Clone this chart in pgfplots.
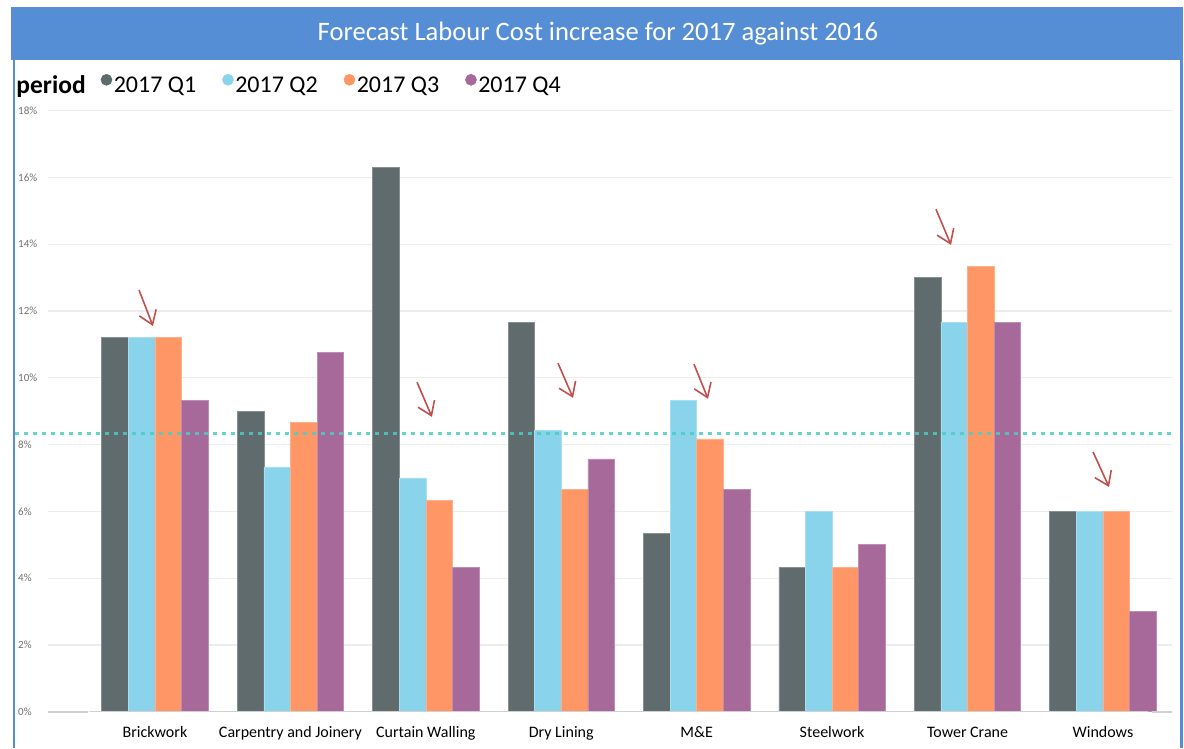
\documentclass[border=0pt]{standalone}
\usepackage{fontspec}
\setmainfont{Carlito}
\usepackage{pgfplots}
\usepackage{pgfplotstable}
\pgfplotsset{compat=1.18}
\usetikzlibrary{arrows.meta}

\definecolor{qa}{HTML}{5F6B6D}
\definecolor{qb}{HTML}{8AD4EB}
\definecolor{qc}{HTML}{FE9666}
\definecolor{qd}{HTML}{A66999}
\definecolor{barblue}{HTML}{558ED5}
\definecolor{arrowred}{HTML}{C0504D}
\definecolor{avgteal}{HTML}{4CCBC4}
\definecolor{gridgray}{HTML}{EDEDED}
\definecolor{basegray}{HTML}{D0D0D0}
\definecolor{tickgray}{HTML}{707070}

\pgfplotstableread{
x q1 q2 q3 q4
0 11.2 11.2 11.2 9.33
1 9.0 7.33 8.67 10.77
2 16.3 7.0 6.33 4.33
3 11.67 8.43 6.67 7.57
4 5.33 9.33 8.17 6.67
5 4.33 6.0 4.33 5.0
6 13.0 11.67 13.33 11.67
7 6.0 6.0 6.0 3.0
}\datatable

\begin{document}
\begin{tikzpicture}
\useasboundingbox (0pt,0pt) rectangle (1184pt,-748pt);
\fill[barblue] (11pt,-7pt) rectangle (1183pt,-60pt);
\node[text=white, font=\fontsize{26.6}{30}\selectfont] at (598pt,-34pt) {Forecast Labour Cost increase for 2017 against 2016};
\draw[barblue, line width=2pt] (14pt,-60pt) -- (14pt,-748pt);
\draw[barblue, line width=3pt] (1181pt,-60pt) -- (1181pt,-748pt);

\begin{axis}[
  at={(48pt,-711.7pt)}, anchor=south west,
  scale only axis, width=1124pt, height=601pt,
  xmin=-0.79, xmax=7.51, ymin=0, ymax=18,
  ybar=0pt, bar width=26.6pt,
  xtick={0,...,7},
  xticklabels={Brickwork, Carpentry and Joinery, Curtain Walling, Dry Lining, M\&E, Steelwork, Tower Crane, Windows},
  ytick={0,2,...,18},
  yticklabels={0\%,2\%,4\%,6\%,8\%,10\%,12\%,14\%,16\%,18\%},
  axis line style={draw=none}, tick style={draw=none},
  ymajorgrids, major grid style={color=gridgray, line width=1.3pt},
  xticklabel style={font=\fontsize{16}{19}\selectfont, anchor=north, inner sep=0pt, yshift=-10.5pt},
  yticklabel style={font=\fontsize{11}{13}\selectfont, text=tickgray, anchor=west, inner sep=0pt, xshift=-30pt},
  clip=false,
  legend columns=-1,
  legend style={at={(axis description cs:-0.0294,1.0432)}, anchor=west, draw=none, fill=none,
    inner sep=0pt, outer sep=0pt, font=\fontsize{24}{28}\selectfont,
    nodes={inner sep=0pt},
    /tikz/every even column/.append style={column sep=26pt},
    /tikz/every odd column/.append style={column sep=1.5pt}},
]
\addlegendimage{empty legend}
\addlegendentry{{\fontsize{25.5}{28}\selectfont\textbf{period}}\kern-11pt\relax}
\addplot[fill=qa, draw=qa!75!white, line width=0.6pt,
  legend image code/.code={\fill[qa] (5pt,6pt) circle (5.5pt);}] table[x=x,y=q1] {\datatable};
\addlegendentry{2017 Q1}
\addplot[fill=qb, draw=qb!75!white, line width=0.6pt,
  legend image code/.code={\fill[qb] (5pt,6pt) circle (5.5pt);}] table[x=x,y=q2] {\datatable};
\addlegendentry{2017 Q2}
\addplot[fill=qc, draw=qc!75!white, line width=0.6pt,
  legend image code/.code={\fill[qc] (5pt,6pt) circle (5.5pt);}] table[x=x,y=q3] {\datatable};
\addlegendentry{2017 Q3}
\addplot[fill=qd, draw=qd!75!white, line width=0.6pt,
  legend image code/.code={\fill[qd] (5pt,6pt) circle (5.5pt);}] table[x=x,y=q4] {\datatable};
\addlegendentry{2017 Q4}

% baseline
\draw[basegray, line width=2pt] (axis cs:-0.79,0) -- (axis cs:-0.495,0);
\draw[basegray, line width=2pt] (axis cs:7.362,0) -- (axis cs:7.51,0);
\draw[basegray, line width=1pt] (axis cs:-0.48,0) -- (axis cs:7.333,0);

% average line
\draw[avgteal, opacity=0.85, line width=2.6pt, dash pattern=on 4pt off 5pt] (axis cs:-1.034,8.34) -- (axis cs:7.53,8.34);

% arrows
\tikzset{annarrow/.style={arrowred, line width=1.6pt, -{Straight Barb[length=13pt, width=18pt]}}}
\draw[annarrow] (axis cs:-0.118,12.63) -- (axis cs:-0.015,11.55);
\draw[annarrow] (axis cs:1.935,9.87) -- (axis cs:2.045,8.83);
\draw[annarrow] (axis cs:2.976,10.44) -- (axis cs:3.087,9.40);
\draw[annarrow] (axis cs:3.980,10.41) -- (axis cs:4.084,9.37);
\draw[annarrow] (axis cs:5.767,15.05) -- (axis cs:5.878,13.98);
\draw[annarrow] (axis cs:6.927,7.78) -- (axis cs:7.045,6.73);
\end{axis}
\end{tikzpicture}
\end{document}
